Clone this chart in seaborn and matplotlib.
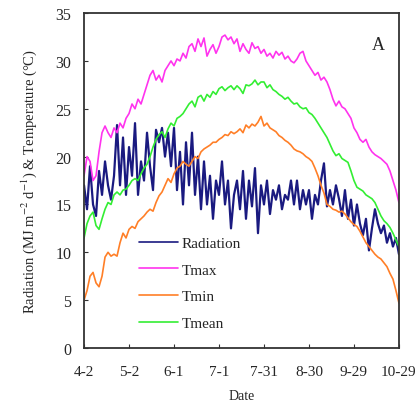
import numpy as np
import matplotlib
matplotlib.use('Agg')
import matplotlib.pyplot as plt
import pandas as pd
import seaborn as sns

# days after 2 April, every second day
days = list(range(0, 211, 2))
tick_days = [0, 30, 60, 90, 120, 150, 180, 210]
tick_labels = ['4-2', '5-2', '6-1', '7-1', '7-31', '8-30', '9-29', '10-29']

radiation = [17, 14.5, 19, 15, 13.8, 18.5, 16, 19.5, 17, 15.5,
             18, 23.3, 17, 22, 16, 21, 18, 23.5, 16, 19.5,
             17.5, 22.5, 19, 16.5, 22.8, 21.5, 23, 20, 22.5, 19,
             23, 16.5, 20.5, 15, 21.5, 17, 22.5, 16, 20, 14.5,
             19.5, 15, 18, 13.5, 17.5, 16, 19.5, 15, 17.5, 12.5,
             16, 17.5, 14.5, 18.5, 13.5, 17.5, 14.8, 18.8, 12, 17,
             15, 17.5, 14, 16.5, 15.5, 17, 14.5, 16, 15.5, 17.5,
             15, 17.5, 14.5, 16.5, 15, 16.5, 13.5, 16, 15, 17.5,
             19.3, 14.8, 16.5, 15, 17, 15.6, 13.8, 16.5, 13.5, 15.5,
             12.8, 15, 13, 11.8, 13.5, 10.2, 12.5, 14.5, 13, 12,
             12.8, 11, 12, 10.6, 11.5, 9.8]

tmax = [18, 20, 19.5, 17.5, 18, 20.5, 22.5, 23.2, 22.5, 22,
        23, 22.5, 23.5, 23, 24, 24.5, 25.5, 25, 26, 25.5,
        26.5, 27.5, 28.5, 29, 28, 28.5, 27.8, 29, 29.5, 30,
        29.5, 30.2, 30, 30.8, 30.3, 31.5, 31.8, 31, 32.3, 31.5,
        32.4, 30.5, 31.2, 31.7, 30.8, 31.5, 32.5, 32.7, 32.2, 32.5,
        31.8, 32.3, 31, 31.8, 31.2, 30.8, 31.9, 31.3, 31.5, 30.8,
        31.2, 30.5, 30.8, 30.3, 31, 30.6, 30.9, 30.2, 30.5, 30,
        29.8, 30.2, 30.8, 31, 30, 29.5, 29, 28.5, 28.8, 28,
        28.3, 27.8, 27, 26, 25.3, 25.8, 25.2, 25, 24.5, 24,
        23, 22.5, 21.8, 21.5, 21.8, 21, 20.5, 20.2, 20, 19.8,
        19.5, 19.2, 18.5, 17.5, 16.5, 15.2]

tmin = [5, 6, 7.5, 7.9, 6.8, 6.4, 7.5, 9.5, 10, 9.6,
        9.8, 9.6, 11, 12, 11.5, 12.4, 12.7, 12.5, 13.2, 13.5,
        13.8, 14.2, 14.5, 14.3, 15.2, 15.9, 16.3, 17, 17.7, 17.3,
        18.2, 18.8, 19, 19.5, 19.2, 19, 19.5, 20, 19.8, 20.5,
        20.8, 21, 21.2, 21.5, 21.5, 21.8, 22, 22.3, 22.2, 22.6,
        22.4, 22.6, 22.9, 22.5, 23.3, 23, 23.4, 23.2, 23.6, 24.2,
        23.2, 23.5, 23, 22.8, 22.6, 22.2, 22, 21.7, 21.5, 21.2,
        20.8, 20.6, 20.5, 20.3, 20, 19.8, 19.5, 18.8, 18, 17,
        16.2, 15, 14.8, 14.5, 14.4, 14.2, 14.3, 14, 13.6, 13.2,
        12.9, 12.7, 12.2, 11.6, 11, 10.6, 10.2, 9.8, 9.5, 9.3,
        8.9, 8.5, 7.8, 7.2, 6, 4.7]

tmean = [11.5, 13, 13.8, 14.2, 12.8, 12.4, 13.5, 14.5, 15.2, 15,
         16, 16.3, 16, 16.5, 16.6, 17, 17.5, 17.7, 17.5, 18.2,
         18.8, 19.2, 20, 21, 21.8, 22.3, 22.6, 22, 22.9, 23.5,
         23.2, 24, 24.2, 24.5, 25, 25.5, 25.8, 25.2, 26.2, 26.4,
         25.8, 26.5, 26.2, 26.8, 26.5, 27.1, 27.3, 26.9, 27.2, 27.4,
         27, 27.4, 27.1, 26.6, 27.5, 27.4, 27.6, 28, 27.5, 27.8,
         27.8, 27.2, 27.5, 27, 26.8, 26.5, 26.3, 26, 26.2, 25.8,
         25.5, 25.6, 25.2, 25, 25.1, 24.6, 24.4, 24, 23.5, 23,
         22.5, 22, 21.3, 20.6, 20.1, 20.3, 19.8, 19.6, 19.4, 18.5,
         17.5, 16.8, 16.6, 16.4, 16, 15.8, 15.6, 15.2, 14.5, 13.8,
         13.3, 13, 12.6, 12, 11.3, 10.6]

series = {'Radiation': radiation, 'Tmax': tmax, 'Tmin': tmin, 'Tmean': tmean}
colors = {'Radiation': '#1a1a80', 'Tmax': '#ff33ee', 'Tmin': '#ff7f27', 'Tmean': '#33ee33'}

frame = pd.concat([pd.DataFrame({'day': days, 'value': v, 'var': k})
                   for k, v in series.items()])

sns.set_style('ticks')
plt.rcParams['font.family'] = ['Liberation Serif', 'DejaVu Serif']
plt.rcParams['mathtext.fontset'] = 'stix'

fig = plt.figure(figsize=(4.16, 4.14), dpi=100)
ax = fig.add_axes([0.202, 0.157, 0.757, 0.809])

sns.lineplot(data=frame, x='day', y='value', hue='var', palette=colors,
             hue_order=list(series), linewidth=1.2, ax=ax)
ax.get_lines()[0].set_linewidth(1.6)

ax.set_xlim(0, 210)
ax.set_ylim(0, 35)
ax.set_xticks(tick_days)
ax.set_xticklabels(tick_labels)
ax.set_yticks(range(0, 36, 5))
ax.tick_params(direction='in', length=3, labelsize=11.5, color='#333333')
ax.tick_params(axis='x', pad=12, labelsize=11)
ax.tick_params(axis='y', pad=9)
for s in ax.spines.values():
    s.set_linewidth(1.3)
    s.set_color('#333333')

ax.set_xlabel('Date', fontsize=10, labelpad=8)
ax.set_ylabel('Radiation (MJ m$^{-2}$ d$^{-1}$) & Temperature (\u00b0C)',
              fontsize=10.5, labelpad=12)

leg = ax.legend(loc='upper left', bbox_to_anchor=(0.13, 0.375), frameon=False,
                handlelength=2.6, labelspacing=0.85, fontsize=11, title=None,
                handletextpad=0.2)

ax.text(0.955, 0.905, 'A', transform=ax.transAxes, ha='right', va='center',
        fontsize=13)

fig.savefig('out.png', dpi=100)
